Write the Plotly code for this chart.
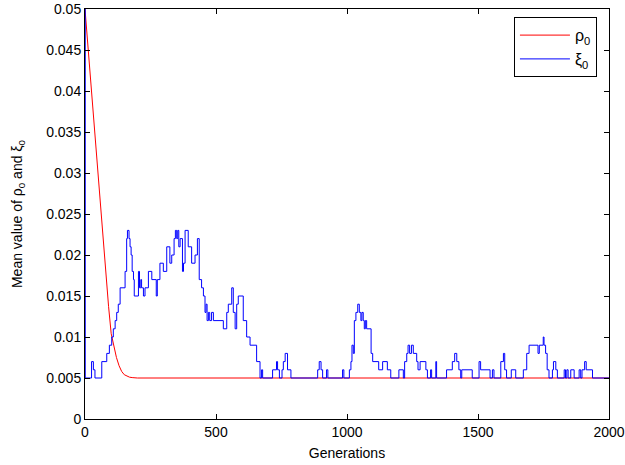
import plotly.graph_objects as go

# Red series: rho_0 mean value
rho_gen = [0, 10, 20, 30, 40, 50, 60, 70, 80, 90, 100, 110, 120, 130, 140, 150, 160, 170, 180, 200, 2000]
rho_val = [0.050, 0.0459, 0.0418, 0.0377, 0.0336, 0.0295, 0.0254, 0.0214, 0.0175, 0.0137, 0.0104,
           0.0088, 0.0075, 0.0065, 0.0058, 0.0054, 0.0052, 0.0051, 0.00505, 0.005, 0.005]

# Blue series: xi_0 mean value (step changes, in thousandths)
xi_gen = [0, 1, 25, 32, 38, 64, 83, 93, 102, 108, 115, 121, 127, 134, 153, 159, 162, 168, 172, 176,
          180, 185, 188, 204, 208, 213, 216, 223, 229, 242, 255, 272, 276, 286, 299, 312, 324, 331,
          340, 345, 350, 354, 358, 363, 372, 376, 382, 394, 407, 420, 429, 436, 445, 452, 458, 462,
          466, 471, 476, 483, 490, 528, 541, 547, 560, 566, 573, 579, 585, 604, 617, 630, 655, 668,
          674, 678, 716, 731, 735, 742, 752, 757, 764, 773, 786, 888, 894, 901, 907, 922, 927, 983,
          988, 1009, 1015, 1019, 1024, 1028, 1034, 1041, 1047, 1053, 1057, 1062, 1066, 1070, 1075,
          1092, 1098, 1121, 1136, 1154, 1167, 1198, 1215, 1220, 1228, 1233, 1239, 1246, 1253, 1266,
          1271, 1279, 1301, 1307, 1319, 1323, 1339, 1342, 1380, 1402, 1411, 1419, 1427, 1434, 1438,
          1478, 1504, 1510, 1546, 1555, 1561, 1587, 1597, 1602, 1609, 1627, 1644, 1673, 1686, 1695,
          1729, 1734, 1749, 1752, 1758, 1764, 1771, 1784, 1788, 1797, 1803, 1829, 1834, 1839, 1844,
          1854, 1867, 1886, 1892, 1897, 1907, 1913, 1937, 2000]
xi_milli = [50, 5, 7, 6, 5, 7, 8, 9, 10, 11, 12, 13, 14, 16, 18, 22, 23, 22, 21, 20,
            18, 17, 15, 18, 16, 17, 16, 15, 16, 18, 17, 15, 17, 19, 18, 21, 19, 20,
            22, 23, 22, 23, 21, 22, 18, 19, 23, 21, 19, 20, 22, 17, 16, 15, 13, 14,
            12, 13, 12, 13, 12, 11, 13, 14, 16, 13, 11, 14, 15, 12, 10, 9, 7, 5,
            6, 5, 6, 7, 6, 5, 6, 7, 8, 6, 5, 6, 7, 6, 5, 6, 5, 6,
            5, 6, 7, 9, 8, 12, 13, 14, 13, 12, 13, 12, 11, 12, 11,
            8, 7, 6, 7, 6, 5, 6, 5, 7, 8, 9, 8, 9, 8, 7,
            6, 7, 6, 5, 6, 5, 7, 5, 6, 7, 8, 7, 6, 5, 6,
            5, 7, 6, 5, 6, 5, 7, 8, 6, 5, 6, 5, 6, 8, 9,
            8, 9, 10, 9, 8, 6, 5, 6, 7, 6, 5, 6, 5, 6, 5,
            6, 5, 6, 5, 6, 7, 6, 5, 5]
xi_val = [v / 1000 for v in xi_milli]

x_ticks = [0, 500, 1000, 1500, 2000]
y_ticks = [0, 0.005, 0.01, 0.015, 0.02, 0.025, 0.03, 0.035, 0.04, 0.045, 0.05]
y_ticktext = ["0", "0.005", "0.01", "0.015", "0.02", "0.025", "0.03", "0.035", "0.04", "0.045", "0.05"]

font_family = "Liberation Sans, Arial, sans-serif"

fig = go.Figure()
fig.add_trace(go.Scatter(x=rho_gen, y=rho_val, mode="lines", name="ρ<sub>0</sub>",
                         line=dict(color="#ff0000", width=1)))
fig.add_trace(go.Scatter(x=xi_gen, y=xi_val, mode="lines", name="ξ<sub>0</sub>",
                         line=dict(color="#0000ff", width=1, shape="hv")))

axis_common = dict(showline=True, linecolor="black", linewidth=1, mirror="ticks",
                   ticks="inside", ticklen=5, tickcolor="black", showgrid=False,
                   zeroline=False, automargin=False,
                   tickfont=dict(family=font_family, size=14, color="black"))

fig.update_layout(
    width=625, height=465,
    margin=dict(l=85, r=16, t=9, b=46),
    paper_bgcolor="white", plot_bgcolor="white",
    font=dict(family=font_family, size=14, color="black"),
    xaxis=dict(range=[0, 2000], tickvals=x_ticks,
               title=dict(text="Generations", standoff=9, font=dict(size=14)), **axis_common),
    yaxis=dict(range=[0, 0.05], tickvals=y_ticks, ticktext=y_ticktext,
               title=dict(text="Mean value of ρ<sub>0</sub> and ξ<sub>0</sub>", standoff=20,
                          font=dict(size=14)), **axis_common),
    legend=dict(x=0.977, y=0.98, xanchor="right", yanchor="top",
                bordercolor="black", borderwidth=1, bgcolor="white", itemwidth=50,
                font=dict(family=font_family, size=16), tracegroupgap=0),
    showlegend=True,
)

fig.write_html("out.html", config={"displayModeBar": False},
               post_script="document.body.style.margin='0';")
